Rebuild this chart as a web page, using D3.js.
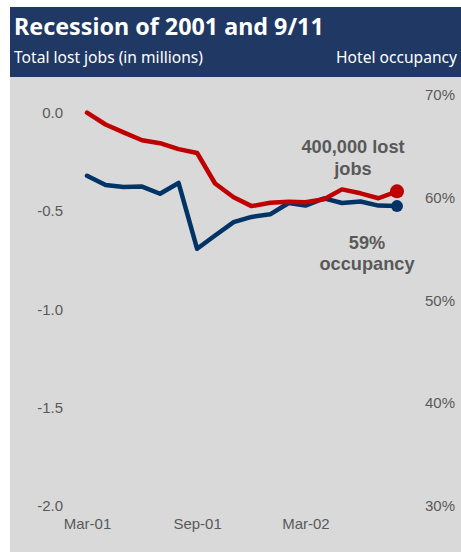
<!DOCTYPE html>
<html>
<head>
<meta charset="utf-8">
<title>Recession of 2001 and 9/11</title>
<script src="https://cdn.jsdelivr.net/npm/d3@7"></script>
<style>
  body { margin: 0; background: #fff; }
</style>
</head>
<body>
<svg id="chart" width="461" height="552"></svg>
<script>
// months Mar-01 .. Aug-02
const months = ["2001-03","2001-04","2001-05","2001-06","2001-07","2001-08","2001-09","2001-10","2001-11","2001-12",
                "2002-01","2002-02","2002-03","2002-04","2002-05","2002-06","2002-07","2002-08"];
// total lost jobs, millions
const lostJobs = [0.0,-0.06,-0.10,-0.14,-0.155,-0.185,-0.205,-0.36,-0.43,-0.475,
                  -0.458,-0.453,-0.455,-0.44,-0.39,-0.41,-0.435,-0.40];
// hotel occupancy, %
const occupancy = [62.1,61.2,61.0,61.05,60.35,61.4,55.0,56.3,57.6,58.1,
                   58.35,59.45,59.2,59.9,59.45,59.6,59.2,59.15];
const leftTicks = [0, -0.5, -1, -1.5, -2];
const rightTicks = [70, 60, 50, 40, 30];
const xTicks = ["2001-03","2001-09","2002-03"];

const parse = d3.timeParse("%Y-%m");
const fmtX = d3.timeFormat("%b-%y");
const fmtL = d => d3.format(".1f")(d).replace("\u2212", "-");

const svg = d3.select("#chart");
const W = 461, H = 552;

// header
svg.append("rect").attr("x", 10).attr("y", 7).attr("width", W - 10).attr("height", 70).attr("fill", "#203864");
svg.append("text").attr("x", 14).attr("y", 35)
  .attr("font-family", "Noto Sans, sans-serif").attr("font-weight", "bold").attr("font-size", 23.3)
  .attr("fill", "#fff").text("Recession of 2001 and 9/11");
svg.append("text").attr("x", 14).attr("y", 63)
  .attr("font-family", "Noto Sans, sans-serif").attr("font-size", 15.6)
  .attr("fill", "#fff").text("Total lost jobs (in millions)");
svg.append("text").attr("x", 457).attr("y", 63).attr("text-anchor", "end")
  .attr("font-family", "Noto Sans, sans-serif").attr("font-size", 15.6)
  .attr("fill", "#fff").text("Hotel occupancy");

// plot background
svg.append("rect").attr("x", 10).attr("y", 77).attr("width", W - 10).attr("height", H - 77).attr("fill", "#d9d9d9");

const x = d3.scaleTime().domain([parse("2001-03"), parse("2002-08")]).range([87, 397]);
const yL = d3.scaleLinear().domain([-2, 0]).range([506, 112.7]);
const yR = d3.scaleLinear().domain([30, 70]).range([506, 94.5]);

const tickFont = "Liberation Sans, Arial, sans-serif";
const tickColor = "#595959";

const axL = svg.append("g").attr("transform", "translate(63,0)")
  .call(d3.axisLeft(yL).tickValues(leftTicks).tickFormat(fmtL).tickSize(0).tickPadding(0));
const axR = svg.append("g").attr("transform", "translate(455,0)")
  .call(d3.axisLeft(yR).tickValues(rightTicks).tickFormat(d => d + "%").tickSize(0).tickPadding(0));
const axB = svg.append("g").attr("transform", "translate(0,518)")
  .call(d3.axisBottom(x).tickValues(xTicks.map(parse)).tickFormat(fmtX).tickSize(0).tickPadding(0));
[axL, axR, axB].forEach(g => {
  g.select(".domain").remove();
  g.selectAll("text").attr("font-family", tickFont).attr("font-size", 15).attr("fill", tickColor);
});

const jobsLine = d3.line().x((d, i) => x(parse(months[i]))).y(d => yL(d));
const occLine = d3.line().x((d, i) => x(parse(months[i]))).y(d => yR(d));

svg.append("path").datum(occupancy).attr("d", occLine)
  .attr("fill", "none").attr("stroke", "#003366").attr("stroke-width", 4.5).attr("stroke-linejoin", "round").attr("stroke-linecap", "round");
svg.append("path").datum(lostJobs).attr("d", jobsLine)
  .attr("fill", "none").attr("stroke", "#c00000").attr("stroke-width", 4.5).attr("stroke-linejoin", "round").attr("stroke-linecap", "round");

const last = months.length - 1;
svg.append("circle").attr("cx", x(parse(months[last]))).attr("cy", yL(lostJobs[last])).attr("r", 7).attr("fill", "#c00000");
svg.append("circle").attr("cx", x(parse(months[last]))).attr("cy", yR(occupancy[last])).attr("r", 6).attr("fill", "#003366");

// annotations
const ann = svg.append("g").attr("font-family", tickFont).attr("font-weight", "bold")
  .attr("font-size", 18.2).attr("fill", "#595959").attr("text-anchor", "middle");
ann.append("text").attr("x", 353).attr("y", 153).text("400,000 lost");
ann.append("text").attr("x", 353).attr("y", 175).text("jobs");
ann.append("text").attr("x", 367).attr("y", 249).text("59%");
ann.append("text").attr("x", 367).attr("y", 270).text("occupancy");
</script>
</body>
</html>
